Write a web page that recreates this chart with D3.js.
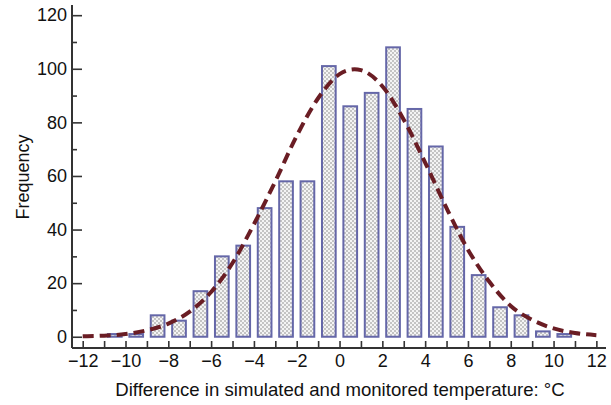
<!DOCTYPE html>
<html>
<head>
<meta charset="utf-8">
<script src="https://cdn.jsdelivr.net/npm/d3@7"></script>
<style>
  body { margin: 0; background: #fff; }
  text { font-family: "Liberation Sans", Arial, sans-serif; fill: #111; }
</style>
</head>
<body>
<svg id="chart" width="611" height="405"></svg>
<script>
// Histogram bin centres (°C) and counts
const binCenters = [-10.5, -9.5, -8.5, -7.5, -6.5, -5.5, -4.5, -3.5, -2.5, -1.5, -0.5, 0.5, 1.5, 2.5, 3.5, 4.5, 5.5, 6.5, 7.5, 8.5, 9.5, 10.5];
const counts     = [1, 1, 8, 6, 17, 30, 34, 48, 58, 58, 101, 86, 91, 108, 85, 71, 41, 23, 11, 8, 2, 1];

// Fitted curve
const curveX = [-12, -11, -10, -9, -8, -7, -6, -5, -4, -3, -2, -1, 0, 0.7, 1, 2, 3, 4, 5, 6, 7, 8, 9, 10, 11, 12];
const curveY = [0.2, 0.4, 1.0, 2.4, 4.9, 9.4, 16.7, 27.5, 42, 58, 75, 89, 98, 99.8, 99.5, 93.5, 81, 65, 48, 32.5, 20.5, 11.5, 6.3, 3.1, 1.4, 0.6];

const xTickLabels = [-12, -10, -8, -6, -4, -2, 0, 2, 4, 6, 8, 10, 12];
const xMinorTicks = d3.range(-12, 13, 1);
const yTickLabels = [0, 20, 40, 60, 80, 100, 120];
const yMinorTicks = [10, 30, 50, 70, 90, 110];

const xTitle = "Difference in simulated and monitored temperature: °C";
const yTitle = "Frequency";

const svg = d3.select("#chart");
const x = d3.scaleLinear().domain([-12.5, 12.45]).range([72, 606]);
const y = d3.scaleLinear().domain([-4.2, 123.8]).range([348, 5]);

// checker pattern
const defs = svg.append("defs");
const pat = defs.append("pattern").attr("id", "chk").attr("patternUnits", "userSpaceOnUse")
  .attr("width", 4).attr("height", 4);
pat.append("rect").attr("width", 4).attr("height", 4).attr("fill", "#f4f4f4");
pat.append("rect").attr("width", 2).attr("height", 2).attr("fill", "#c4c4c4");
pat.append("rect").attr("x", 2).attr("y", 2).attr("width", 2).attr("height", 2).attr("fill", "#c4c4c4");

const fmt = d => d < 0 ? "\u2212" + Math.abs(d) : String(d);
const FONT = "Liberation Sans, Arial, sans-serif";

// bars
const bw = (x(1) - x(0)) * 0.64;
svg.append("g").selectAll("rect").data(binCenters).join("rect")
  .attr("x", (d) => x(d) - bw / 2)
  .attr("y", (d, i) => y(counts[i]))
  .attr("width", bw)
  .attr("height", (d, i) => y(0) - y(counts[i]))
  .attr("fill", "url(#chk)")
  .attr("stroke", "#6567a8")
  .attr("stroke-width", 2);

// curve
const line = d3.line().x((d, i) => x(d)).y((d, i) => y(curveY[i])).curve(d3.curveMonotoneX);
svg.append("path").attr("d", line(curveX))
  .attr("fill", "none").attr("stroke", "#6a1d24").attr("stroke-width", 4)
  .attr("stroke-dasharray", "11,6");

// axes
const axisColor = "#333";
const xAxisG = svg.append("g").attr("transform", `translate(0,${y.range()[0]})`);
xAxisG.call(d3.axisBottom(x).tickValues(xMinorTicks).tickSize(-7).tickFormat(""));
xAxisG.select(".domain").remove();
xAxisG.selectAll("line").attr("stroke", axisColor).attr("stroke-width", 1.6);
const xLab = svg.append("g").attr("transform", `translate(0,${y.range()[0]})`);
xLab.call(d3.axisBottom(x).tickValues(xTickLabels).tickSize(0).tickPadding(6).tickFormat(fmt));
xLab.select(".domain").remove();
xLab.selectAll("text").attr("font-size", 18).attr("font-family", FONT).attr("fill", "#111");

const yAxisG = svg.append("g").attr("transform", `translate(${x.range()[0]},0)`);
yAxisG.call(d3.axisLeft(y).tickValues(yTickLabels).tickSize(-10).tickPadding(5).tickFormat(fmt));
yAxisG.select(".domain").remove();
yAxisG.selectAll("line").attr("stroke", axisColor).attr("stroke-width", 1.6);
yAxisG.selectAll("text").attr("font-size", 18).attr("font-family", FONT).attr("fill", "#111");
const yMin = svg.append("g").attr("transform", `translate(${x.range()[0]},0)`);
yMin.call(d3.axisLeft(y).tickValues(yMinorTicks).tickSize(-5).tickFormat(""));
yMin.select(".domain").remove();
yMin.selectAll("line").attr("stroke", axisColor).attr("stroke-width", 1.6);

// axis lines
svg.append("line").attr("x1", x.range()[0]).attr("x2", x.range()[1]).attr("y1", y.range()[0]).attr("y2", y.range()[0])
  .attr("stroke", axisColor).attr("stroke-width", 2);
svg.append("line").attr("x1", x.range()[0]).attr("x2", x.range()[0]).attr("y1", y.range()[0]).attr("y2", y.range()[1])
  .attr("stroke", axisColor).attr("stroke-width", 2);

// titles
svg.append("text").attr("x", 340).attr("y", 396).attr("text-anchor", "middle").attr("font-size", 18.6).text(xTitle);
svg.append("text").attr("transform", "translate(29,177) rotate(-90)").attr("text-anchor", "middle").attr("font-size", 18).text(yTitle);
</script>
</body>
</html>
